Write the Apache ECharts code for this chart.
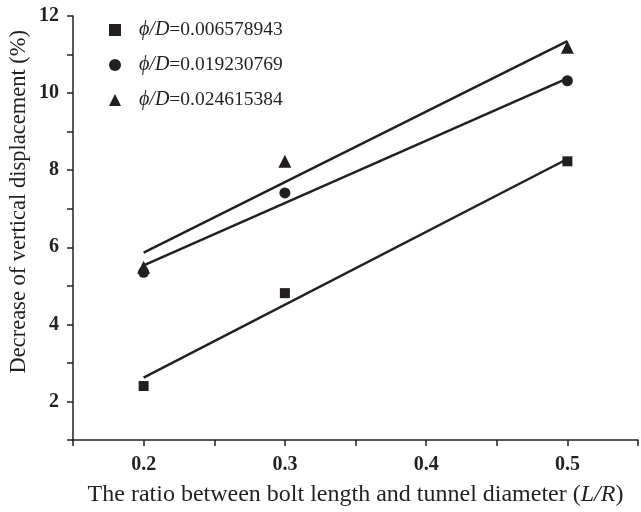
<!DOCTYPE html>
<html><head><meta charset="utf-8">
<script src="https://cdn.jsdelivr.net/npm/echarts@6/dist/echarts.min.js"></script>
<style>html,body{margin:0;padding:0;background:#fff}#c{width:641px;height:512px}</style>
</head><body><div id="c"></div>
<script>
const xValues = [0.2, 0.3, 0.5];
const legendValues = ['0.006578943', '0.019230769', '0.024615384'];
const squareValues = [2.40, 4.81, 8.23];
const circleValues = [5.35, 7.41, 10.32];
const triangleValues = [5.48, 8.23, 11.19];
const fitX = [0.2, 0.5];
const squareFit = [2.62, 8.29];
const circleFit = [5.53, 10.38];
const triangleFit = [5.86, 11.35];
const yTickLabels = [2, 4, 6, 8, 10, 12];
const xTickLabels = [0.2, 0.3, 0.4, 0.5];
const yTitle = 'Decrease of vertical displacement (%)';
const xTitleMain = 'The ratio between bolt length and tunnel diameter (';
const xTitleVar = 'L/R';

const ink = '#231f20';
const serif = '"Liberation Serif", "Times New Roman", serif';
const symbols = ['rect', 'circle', 'triangle'];
const symbolSizes = [10, 11, 13];
const pointSets = [squareValues, circleValues, triangleValues];
const fitSets = [squareFit, circleFit, triangleFit];
const names = legendValues.map(v => 'ϕ/D=' + v);

const series = [];
pointSets.forEach((vals, i) => {
  series.push({
    name: names[i], type: 'scatter', symbol: symbols[i], symbolSize: symbolSizes[i],
    itemStyle: { color: ink, opacity: 1 }, z: 3,
    data: xValues.map((x, j) => [x, vals[j]])
  });
});
fitSets.forEach((vals, i) => {
  series.push({
    name: 'fit' + i, type: 'line', showSymbol: false, symbol: 'none',
    lineStyle: { color: ink, width: 2.5 }, z: 2, silent: true,
    data: fitX.map((x, j) => [x, vals[j]])
  });
});

const chart = echarts.init(document.getElementById('c'));
chart.setOption({
  animation: false,
  backgroundColor: '#fff',
  grid: { left: 73, right: 0, top: 16, bottom: 71, containLabel: false },
  legend: {
    data: names, orient: 'vertical', left: 104, top: 15,
    itemWidth: 12, itemHeight: 12, itemGap: 15,
    formatter: n => '{s|}{i|ϕ/D}{n|' + n.slice(3) + '}',
    textStyle: {
      color: ink, fontFamily: serif, fontSize: 19, lineHeight: 20,
      rich: {
        s: { width: 13 },
        i: { fontStyle: 'italic', fontFamily: serif, fontSize: 20, color: ink },
        n: { fontFamily: serif, fontSize: 19.5, color: ink }
      }
    }
  },
  xAxis: {
    type: 'value', min: 0.15, max: 0.55, interval: 0.05,
    name: '{r|' + xTitleMain + '}{i|' + xTitleVar + '}{r|)}', nameLocation: 'middle', nameGap: 43,
    nameTextStyle: {
      fontFamily: serif, fontSize: 24, color: ink,
      rich: {
        r: { fontFamily: serif, fontSize: 24, color: ink },
        i: { fontFamily: serif, fontSize: 24, color: ink, fontStyle: 'italic' }
      }
    },
    axisLine: { lineStyle: { color: ink, width: 1.5 } },
    axisTick: { show: true, length: 6, lineStyle: { color: ink, width: 1.5 } },
    axisLabel: {
      margin: 15, fontFamily: serif, fontSize: 20, fontWeight: 'bold', color: ink,
      formatter: v => { const m = xTickLabels.find(t => Math.abs(t - v) < 1e-6); return m === undefined ? '' : m.toFixed(1); }
    },
    splitLine: { show: false }
  },
  yAxis: {
    type: 'value', min: 1, max: 12, interval: 1,
    axisLine: { show: true, lineStyle: { color: ink, width: 1.5 } },
    axisTick: { show: true, length: 6, lineStyle: { color: ink, width: 1.5 } },
    axisLabel: {
      margin: 14, fontFamily: serif, fontSize: 20, fontWeight: 'bold', color: ink,
      formatter: v => yTickLabels.includes(Math.round(v)) && Math.abs(v - Math.round(v)) < 1e-6 ? String(Math.round(v)) : ''
    },
    splitLine: { show: false }
  },
  graphic: [{
    type: 'text', left: 8, top: 30,
    style: { text: yTitle, font: '22.5px ' + serif, fill: ink },
    rotation: Math.PI / 2,
    originX: 0, originY: 0
  }],
  series: series
});
</script></body></html>
